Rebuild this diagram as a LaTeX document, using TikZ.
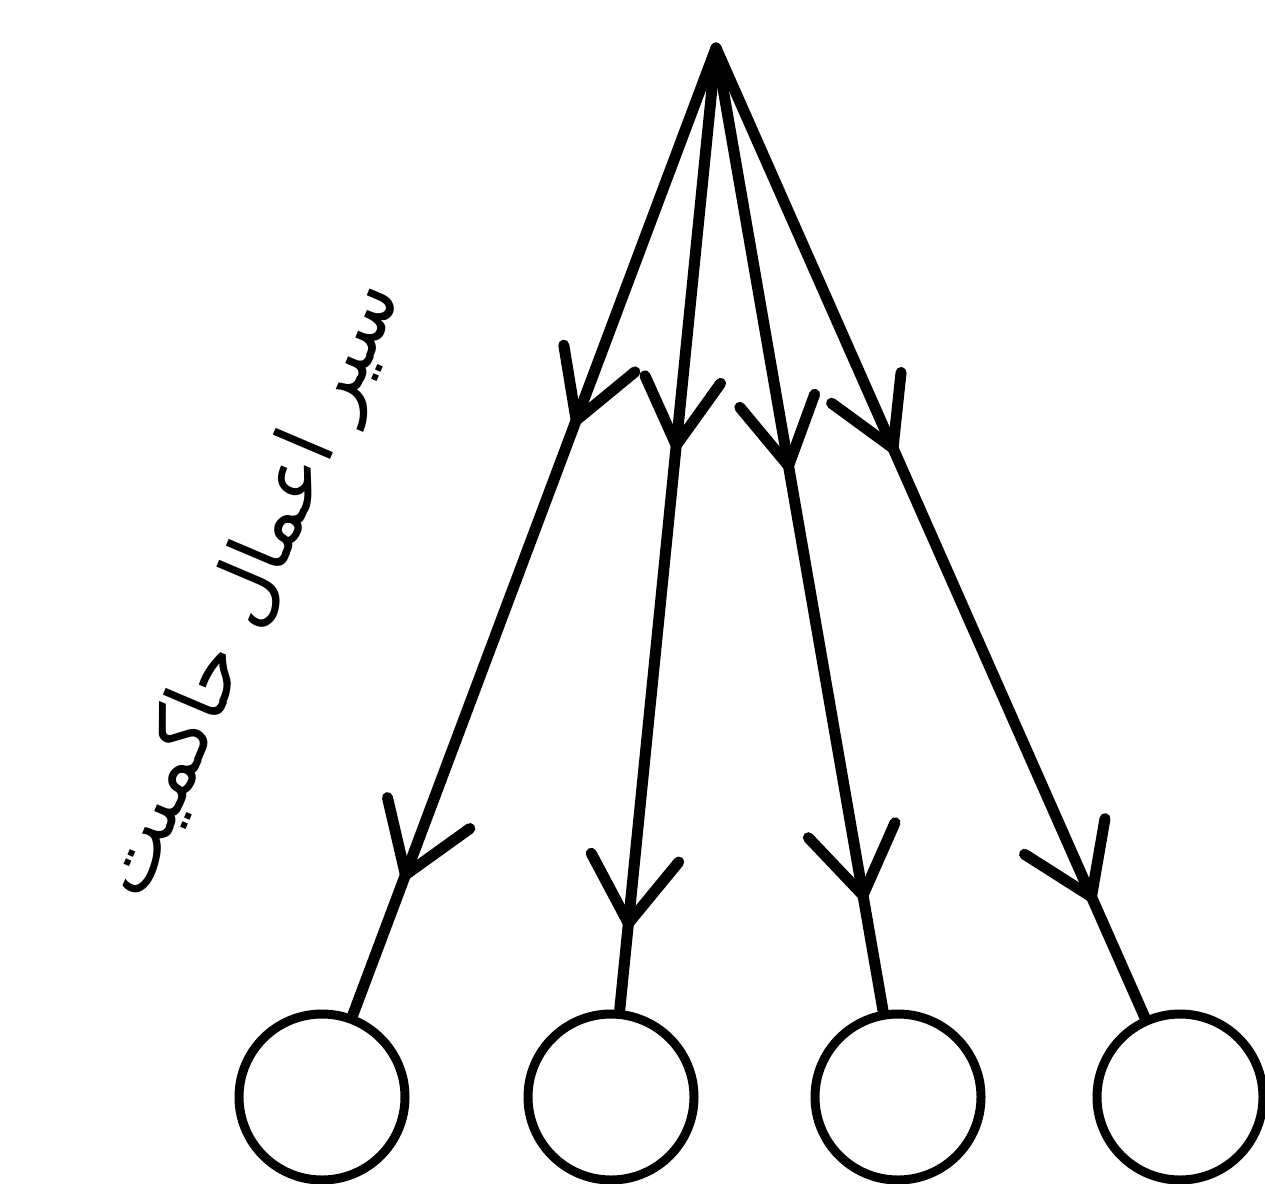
\documentclass[tikz,border=0pt]{standalone}
\usepackage{fontspec}
\usepackage{graphicx}
\TeXXeTstate=1
\newfontfamily\arabicfont[Script=Arabic]{DejaVu Sans}
\usetikzlibrary{decorations.markings}
\tikzset{
  vhead/.style={line width=11pt, line cap=round, line join=round},
  edgeline/.style={line width=11pt, line cap=round},
  leaf/.style={circle, draw, line width=9pt, minimum size=166pt, inner sep=0pt},
  twoheads/.style 2 args={postaction={decorate}, decoration={markings,
    mark=at position #1 with {\draw[vhead] (-66pt,-38pt) -- (0,0) -- (-66pt,38pt);},
    mark=at position #2 with {\draw[vhead] (-66pt,-44pt) -- (0,0) -- (-66pt,44pt);}}}
}
\begin{document}
\begin{tikzpicture}[x=1pt,y=-1pt]
\useasboundingbox (0,0) rectangle (1265,1183);
\coordinate (top) at (716,48);
\node[leaf] (c1) at (322,1097) {};
\node[leaf] (c2) at (611,1097) {};
\node[leaf] (c3) at (898,1097) {};
\node[leaf] (c4) at (1180,1097) {};
\draw[edgeline, twoheads={0.385}{0.855}] (top) -- (c1);
\draw[edgeline, twoheads={0.413}{0.91}] (top) -- (c2);
\draw[edgeline, twoheads={0.434}{0.88}] (top) -- (c3);
\draw[edgeline, twoheads={0.413}{0.876}] (top) -- (c4);
\node[rotate=67, inner sep=0pt] (label) at (252,590)
  {\resizebox{660pt}{!}{\arabicfont\beginR سیر اعمال حاکمیت\endR}};
\end{tikzpicture}
\end{document}
